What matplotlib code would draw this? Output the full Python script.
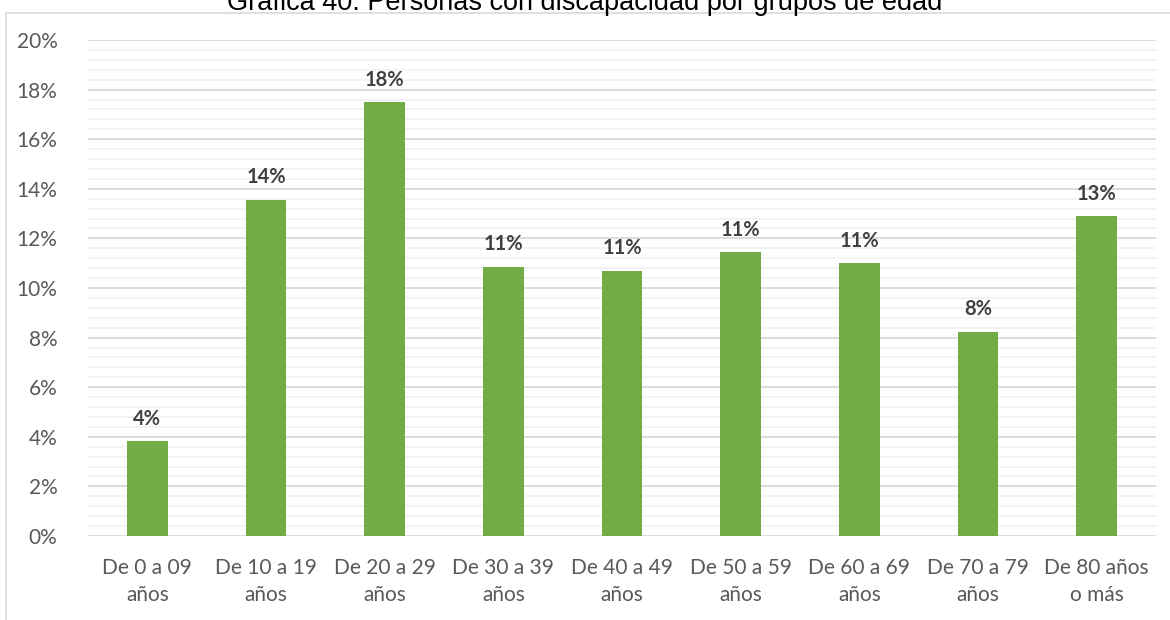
import matplotlib.pyplot as plt
from matplotlib.ticker import MultipleLocator, FuncFormatter
from matplotlib.patches import Rectangle

# data
grupos = ['De 0 a 09\naños', 'De 10 a 19\naños', 'De 20 a 29\naños', 'De 30 a 39\naños',
          'De 40 a 49\naños', 'De 50 a 59\naños', 'De 60 a 69\naños', 'De 70 a 79\naños',
          'De 80 años\no más']
porcentajes = [3.83, 13.55, 17.5, 10.85, 10.69, 11.45, 11.0, 8.23, 12.9]

titulo = 'Gráfica 40. Personas con discapacidad por grupos de edad'

plt.rcParams['font.family'] = ['Lato', 'DejaVu Sans']

fig = plt.figure(figsize=(11.7, 6.2), dpi=100)
ax = fig.add_axes([88 / 1170, 84 / 620, (1156 - 88) / 1170, (536 - 40) / 620])

x = list(range(len(grupos)))
ax.bar(x, porcentajes, width=0.34, color='#70AD47', zorder=3)

for xi, v in zip(x, porcentajes):
    ax.annotate(f'{round(v):.0f}%', (xi, v), xytext=(0, 9), textcoords='offset points',
                ha='center', va='bottom', fontsize=14.5, fontweight='bold', color='#404040')

ax.set_xlim(-0.5, len(grupos) - 0.5)
ax.set_ylim(0, 20)
ax.yaxis.set_major_locator(MultipleLocator(2))
ax.yaxis.set_minor_locator(MultipleLocator(0.4))
ax.yaxis.set_major_formatter(FuncFormatter(lambda v, p: f'{v:.0f}%'))
ax.grid(axis='y', which='major', color='#D9D9D9', linewidth=1.3, zorder=0)
ax.grid(axis='y', which='minor', color='#F2F2F2', linewidth=1.3, zorder=0)

ax.set_xticks(x)
ax.set_xticklabels(grupos, fontsize=15, color='#595959', linespacing=1.45)
ax.tick_params(axis='y', which='both', length=0, labelsize=15, labelcolor='#595959', pad=22)
ax.tick_params(axis='x', length=0, pad=16)
for s in ax.spines.values():
    s.set_visible(False)

# chart frame
fig.patches.append(Rectangle((6 / 1170, -0.1), 1.2, (620 - 13) / 620 + 0.1,
                             transform=fig.transFigure, fill=False,
                             edgecolor='#D9D9D9', linewidth=1.2))

# title sits partly above the image edge, as in the source
fig.text(0.5, 1 - 10 / 620, titulo, ha='center', va='baseline', fontsize=19.5,
         family='Liberation Sans', color='#000000')

plt.savefig('out.png', dpi=100)
plt.close()
